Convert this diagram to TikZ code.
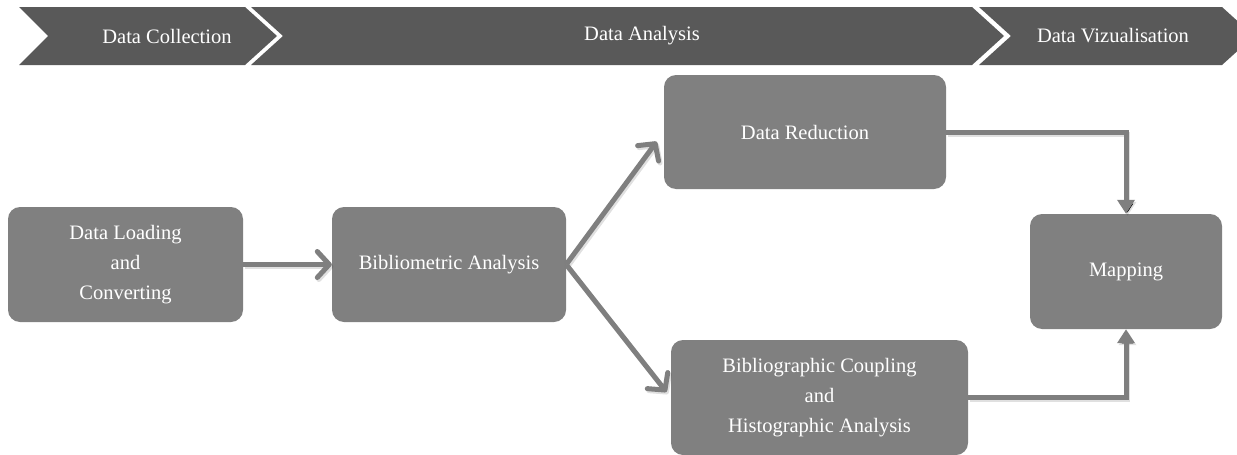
\documentclass[tikz,border=0pt]{standalone}
\usepackage{fontspec}
\setmainfont{Liberation Serif}
\usetikzlibrary{arrows.meta}
\definecolor{chev}{HTML}{595959}
\definecolor{boxc}{HTML}{808080}
\definecolor{linec}{HTML}{7F7F7F}
\begin{document}
\begin{tikzpicture}[x=1pt,y=-1pt,
  chevron/.style={fill=chev,draw=none},
  chevtext/.style={text=white,font=\fontsize{20.5}{30}\selectfont,inner sep=0pt},
  procbox/.style={fill=boxc,draw=none,rounded corners=12pt,text=white,
     font=\fontsize{20.5}{30}\selectfont,align=center,inner sep=0pt},
  conn/.style={draw=linec,line width=5pt},
  openhead/.style={conn,-{Straight Barb[length=12pt,width=26pt,round]}},
  filledhead/.style={conn,-{Triangle[length=14pt,width=17pt]}},
  shadowline/.style={draw=black,draw opacity=0.12}
]
\useasboundingbox (0,0) rectangle (1237,455);
% banner
\fill[chevron] (19,7) -- (245,7) -- (277,36) -- (245,65) -- (19,65) -- (48,36) -- cycle;
\fill[chevron] (251,7) -- (972,7) -- (1004,36) -- (972,65) -- (251,65) -- (283,36) -- cycle;
\fill[chevron] (979,7) -- (1222,7) -- (1254,36) -- (1222,65) -- (979,65) -- (1011,36) -- cycle;
\node[chevtext] (t1) at (167,36) {Data Collection};
\node[chevtext] (t2) at (642,36) {Data Analysis};
\node[chevtext] (t3) at (1113,36) {Data Vizualisation};
% boxes
\node[procbox,minimum width=235pt,minimum height=115pt] (load) at (125.5,264.5) {Data Loading\\and\\Converting};
\node[procbox,minimum width=234pt,minimum height=115pt] (bib) at (449,264.5) {Bibliometric Analysis};
\node[procbox,minimum width=282pt,minimum height=114pt] (red) at (805,132) {Data Reduction};
\node[procbox,minimum width=297pt,minimum height=115pt] (bc) at (819.5,397.5) {Bibliographic Coupling\\and\\Histographic Analysis};
\node[procbox,minimum width=192pt,minimum height=115pt] (map) at (1126,271.5) {Mapping};
% connector shadows
\begin{scope}[transform canvas={shift={(1.5pt,-2pt)}}]
\draw[openhead,shadowline] (load.east) -- (bib.west);
\draw[openhead,shadowline,shorten >=12pt] (bib.east) -- (red.west);
\draw[openhead,shadowline,shorten >=7pt] (bib.east) -- (bc.west);
\draw[filledhead,shadowline] (red.east) -| (map.north);
\draw[filledhead,shadowline] (bc.east) -| (map.south);
\end{scope}
% connectors
\draw[openhead] (load.east) -- (bib.west);
\draw[openhead,shorten >=12pt] (bib.east) -- (red.west);
\draw[openhead,shorten >=7pt] (bib.east) -- (bc.west);
\draw[filledhead] (red.east) -| (map.north);
\draw[filledhead] (bc.east) -| (map.south);
\end{tikzpicture}
\end{document}
